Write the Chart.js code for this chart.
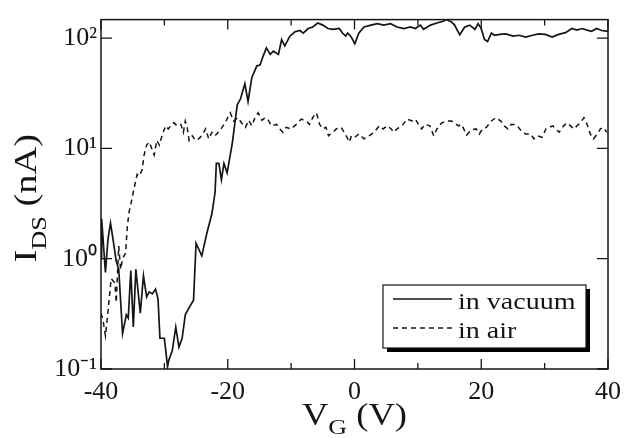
<!DOCTYPE html>
<html><head><meta charset="utf-8">
<script src="https://cdn.jsdelivr.net/npm/chart.js@4.4.1/dist/chart.umd.min.js"></script>
<style>html,body{margin:0;padding:0;background:#fff}</style>
</head><body>
<canvas id="c" width="629" height="438"></canvas>
<script>
// ---- data ----
const vacuumV = [-40,-39.9,-39.3,-38.9,-38.5,-38.1,-37.6,-37.2,-36.6,-36.0,-35.7,-35.3,-34.9,-34.5,-33.8,-33.3,-32.8,-32.4,-31.9,-31.4,-31.0,-30.7,-30.0,-29.5,-29.3,-28.75,-28.2,-27.7,-27.2,-26.7,-26.1,-25.4,-25.0,-24.1,-23.3,-22.5,-22.0,-21.8,-21.4,-21.0,-20.6,-20.1,-19.3,-18.5,-18.0,-17.3,-16.8,-16.2,-15.4,-14.9,-14.4,-13.9,-13.3,-12.8,-12.0,-11.5,-11.0,-10.2,-9.4,-8.6,-8.1,-7.3,-6.6,-5.8,-5.0,-4.2,-3.4,-2.4,-1.9,-1.4,-1.1,-0.6,0.05,0.7,1.5,2.6,3.6,4.6,5.7,6.7,7.8,8.8,9.6,10.4,10.9,12.0,13.0,14.0,14.5,15.3,15.8,16.6,17.4,18.2,19.0,19.5,20.0,20.5,21.0,21.6,22.1,22.9,23.9,25.0,26.0,27.0,28.1,29.1,30.1,31.2,32.2,33.3,34.3,35.1,35.9,36.7,37.4,38.2,39.0,40.0];
const vacuumI = [1.0,2.3,0.75,1.5,2.1,1.5,0.95,0.8,0.21,0.31,0.29,0.78,0.24,0.8,0.32,0.70,0.45,0.50,0.48,0.53,0.43,0.19,0.19,0.105,0.12,0.147,0.24,0.158,0.19,0.31,0.36,0.42,1.38,1.06,1.7,2.55,4.0,7.3,7.3,5.2,7.3,6.0,11,24.8,28,38.6,26.6,44,56,57,69,81.5,71,76,71,97,85,104,114,117,111,122,126,137,131,122,120,122,111,104,111,104,89,111,126,131,135,131,135,126,122,126,122,131,120,131,137,142,147,140,131,107,126,131,120,135,122,97,93,111,106,108,109,104,106,102,106,109,108,102,108,112,122,118,122,118,115,122,117,115];
const airV = [-40,-39.7,-39.3,-38.9,-38.4,-37.8,-37.6,-37.2,-36.9,-36.6,-36.1,-35.9,-35.6,-35.3,-34.8,-34.3,-34.0,-33.5,-33.2,-32.8,-32.4,-32.0,-31.6,-31.2,-30.8,-30.3,-29.8,-29.4,-29.0,-28.5,-28.0,-27.4,-27.0,-26.7,-26.4,-26.1,-25.6,-25.1,-24.6,-24.1,-23.5,-23.0,-22.5,-22.0,-21.5,-20.9,-20.4,-19.9,-19.6,-19.1,-18.4,-17.8,-17.2,-16.7,-16.2,-15.7,-15.2,-14.6,-14.1,-13.6,-13.1,-12.3,-11.8,-11.3,-10.8,-10.0,-9.2,-8.4,-7.6,-7.1,-6.6,-6.0,-5.5,-5.0,-4.5,-4.1,-3.4,-2.9,-2.1,-1.3,-0.8,-0.5,0.05,0.7,1.5,2.3,3.1,3.9,4.5,5.2,5.8,6.2,6.7,7.5,8.3,9.1,9.6,10.1,10.6,11.1,11.9,12.5,13.0,13.75,14.5,15.3,15.8,16.4,16.9,17.7,18.4,19.2,19.7,20.2,20.8,21.6,22.3,23.1,23.6,24.2,24.7,25.3,25.7,26.25,27.0,27.8,28.3,28.9,29.6,30.2,30.7,31.3,31.7,32.3,33.0,33.5,34.1,34.6,35.1,35.6,36.2,36.7,37.2,37.7,38.3,38.8,39.3,39.8];
const airI = [0.32,0.28,0.2,0.33,0.66,0.6,0.4,1.3,0.8,1.0,1.13,1.8,2.6,3.1,4.3,5.8,5.6,6.4,8.7,10.7,11.4,10,8.7,11.8,10.7,13.5,16,15,16,17.1,16,16.5,14,17.7,15.5,11.8,13,11.8,12.2,13,15,12.2,14,13,14,15.5,17.1,19.6,21,17.7,19,17,15.5,18,16,19,21,18,19,18,16,16.5,15,14,15.5,15,16.5,18.4,17.7,16.5,19,21,16.5,15,15.5,13,14,15,15.5,13,11.4,13,12.6,13.5,12.2,13,14,16,15,16,15,14,15,16,18.4,17.7,18.4,16.5,15,16.5,16,13,15,17,17.7,17.7,17,16,16.5,13.2,14.7,15,13.5,15,15.5,17.7,19,17.7,16,15,16.5,16.5,16,14.5,13.5,13.5,12.2,13,12.6,15,15.5,16,15,14,16,17,16,15,16,17,19,16.5,13.5,12.2,13.5,15,15.5,14];
const seriesLabels = ['in vacuum', 'in air'];
const xTickValues = [-40, -20, 0, 20, 40];
const xMinorTicks = [-30, -10, 10, 30];
const yTickValues = [0.1, 1, 10, 100];
const xRange = [-40, 40];
const yRange = [0.1, 147];
const xTitleParts = ['V', 'G', ' (V)'];
const yTitleParts = ['I', 'DS', ' (nA)'];

const SERIF = '"Liberation Serif", "Times New Roman", serif';
const INK = '#151515';
const SUP = {'-':'\u207B','0':'\u2070','1':'\u00B9','2':'\u00B2','3':'\u00B3'};
function decadeLabel(v){
  const e = Math.round(Math.log10(v));
  return '10' + String(e).split('').map(c => SUP[c]).join('');
}

function drawRich(ctx, parts, size, stretch){
  ctx.save();
  ctx.scale(stretch, 1);
  ctx.textBaseline = 'alphabetic';
  ctx.textAlign = 'left';
  let x = 0;
  ctx.font = size + 'px ' + SERIF;
  ctx.fillText(parts[0], x, 0); x += ctx.measureText(parts[0]).width;
  const ss = Math.round(size * 0.7);
  ctx.font = ss + 'px ' + SERIF;
  ctx.fillText(parts[1], x, size * 0.3); x += ctx.measureText(parts[1]).width;
  ctx.font = size + 'px ' + SERIF;
  ctx.fillText(parts[2], x, 0); x += ctx.measureText(parts[2]).width;
  ctx.restore();
  return x * stretch;
}
function richWidth(ctx, parts, size, stretch){
  ctx.save();
  ctx.font = size + 'px ' + SERIF;
  let w = ctx.measureText(parts[0]).width + ctx.measureText(parts[2]).width;
  ctx.font = Math.round(size * 0.7) + 'px ' + SERIF;
  w += ctx.measureText(parts[1]).width;
  ctx.restore();
  return w * stretch;
}

const framePlugin = {
  id: 'frame',
  afterDraw(chart){
    const ctx = chart.ctx, a = chart.chartArea;
    const xs = chart.scales.x, ys = chart.scales.y;
    ctx.save();
    ctx.strokeStyle = INK; ctx.lineWidth = 1.5;
    ctx.strokeRect(a.left, a.top, a.right - a.left, a.bottom - a.top);
    ctx.lineWidth = 1.3;
    ctx.beginPath();
    xTickValues.forEach(v => { const p = xs.getPixelForValue(v);
      ctx.moveTo(p, a.bottom); ctx.lineTo(p, a.bottom - 10);
      ctx.moveTo(p, a.top); ctx.lineTo(p, a.top + 10); });
    xMinorTicks.forEach(v => { const p = xs.getPixelForValue(v);
      ctx.moveTo(p, a.bottom); ctx.lineTo(p, a.bottom - 6);
      ctx.moveTo(p, a.top); ctx.lineTo(p, a.top + 6); });
    yTickValues.forEach(v => { const p = ys.getPixelForValue(v);
      ctx.moveTo(a.left, p); ctx.lineTo(a.left + 11, p);
      ctx.moveTo(a.right, p); ctx.lineTo(a.right - 11, p); });
    ctx.stroke();

    // axis titles
    ctx.fillStyle = INK;
    const st = 1.18;
    const xw = richWidth(ctx, xTitleParts, 31, st);
    ctx.save();
    ctx.translate((a.left + a.right) / 2 - xw / 2, 425);
    drawRich(ctx, xTitleParts, 31, st);
    ctx.restore();
    const yw = richWidth(ctx, yTitleParts, 32, 1.2);
    ctx.save();
    ctx.translate(36, (a.top + a.bottom) / 2 + 4 + yw / 2);
    ctx.rotate(-Math.PI / 2);
    drawRich(ctx, yTitleParts, 32, 1.2);
    ctx.restore();

    // legend box
    const bx = 383, by = 285, bw = 203, bh = 63;
    ctx.fillStyle = '#000';
    ctx.fillRect(bx + 4, by + 4, bw, bh);
    ctx.fillStyle = '#fff';
    ctx.fillRect(bx, by, bw, bh);
    ctx.strokeStyle = INK; ctx.lineWidth = 1.2;
    ctx.strokeRect(bx, by, bw, bh);
    const rows = [299, 328];
    chart.data.datasets.forEach((ds, i) => {
      ctx.save();
      ctx.strokeStyle = INK; ctx.lineWidth = ds.borderWidth;
      ctx.setLineDash(ds.borderDash || []);
      ctx.beginPath(); ctx.moveTo(393, rows[i]); ctx.lineTo(452, rows[i]); ctx.stroke();
      ctx.restore();
      ctx.save();
      ctx.fillStyle = INK;
      ctx.translate(458, rows[i] + 10);
      ctx.scale(1.22, 1);
      ctx.font = '23px ' + SERIF;
      ctx.textBaseline = 'alphabetic';
      ctx.fillText(ds.label, 0, 0);
      ctx.restore();
    });
    ctx.restore();
  }
};

const toPts = (xv, yv) => xv.map((x, i) => ({x: x, y: yv[i]}));

new Chart(document.getElementById('c'), {
  type: 'line',
  data: {
    datasets: [
      {label: seriesLabels[0], data: toPts(vacuumV, vacuumI), borderColor: INK, borderWidth: 1.7,
       pointRadius: 0, tension: 0, fill: false},
      {label: seriesLabels[1], data: toPts(airV, airI), borderColor: INK, borderWidth: 1.5,
       borderDash: [5, 4], pointRadius: 0, tension: 0, fill: false}
    ]
  },
  options: {
    responsive: false, animation: false, devicePixelRatio: 1,
    layout: {padding: {left: 0, right: 17, top: 11, bottom: 0}},
    plugins: {legend: {display: false}, tooltip: {enabled: false}, title: {display: false}},
    scales: {
      x: {
        type: 'linear', min: xRange[0], max: xRange[1],
        grid: {display: false, drawTicks: false}, border: {display: false},
        afterBuildTicks: s => { s.ticks = xTickValues.map(v => ({value: v})); },
        ticks: {padding: 8, color: INK, maxRotation: 0, autoSkip: false,
                font: {family: SERIF, size: 26}},
        afterFit: s => { s.height = 69; }
      },
      y: {
        type: 'logarithmic', min: yRange[0], max: yRange[1],
        grid: {display: false, drawTicks: false}, border: {display: false},
        afterBuildTicks: s => { s.ticks = yTickValues.map(v => ({value: v})); },
        ticks: {padding: 4, color: INK, autoSkip: false, callback: v => decadeLabel(v),
                font: {family: SERIF, size: 26}},
        afterFit: s => { s.width = 101; }
      }
    }
  },
  plugins: [framePlugin]
});
</script>
</body></html>
